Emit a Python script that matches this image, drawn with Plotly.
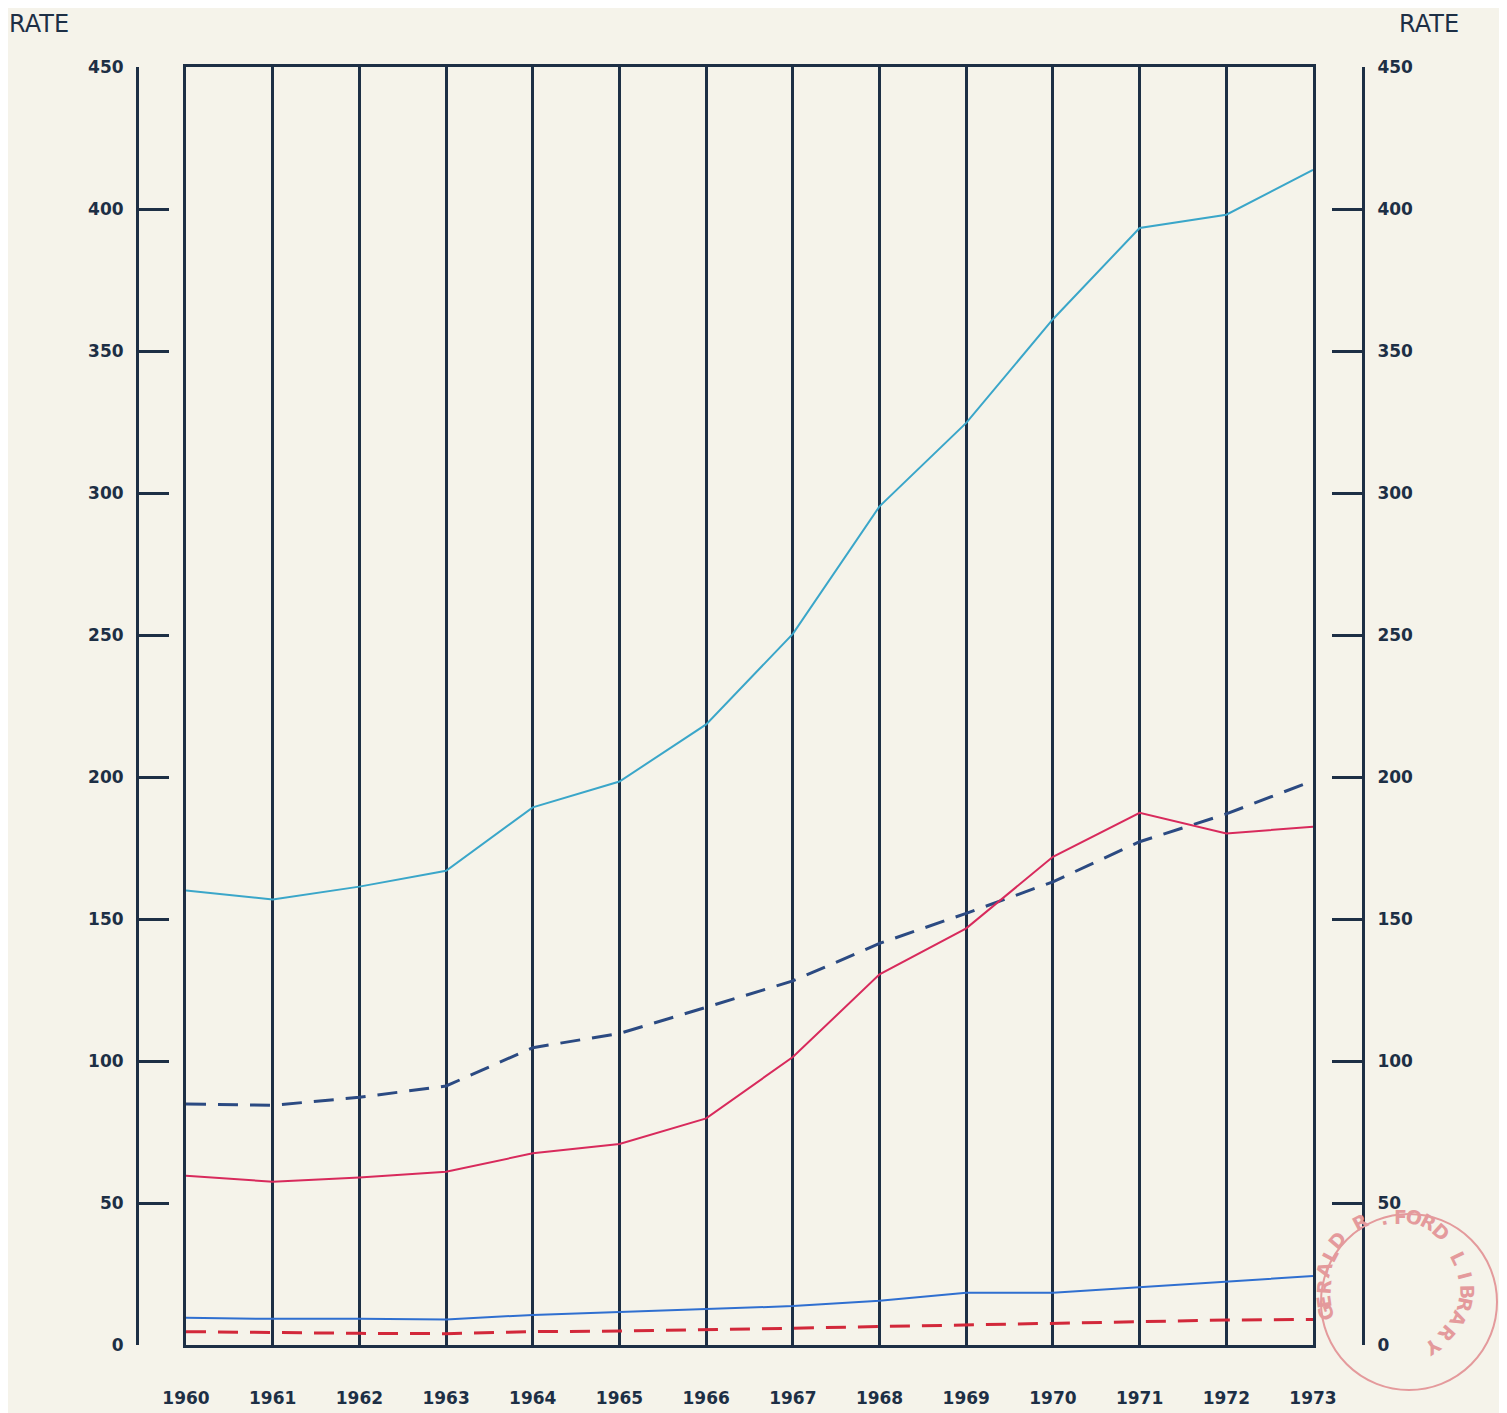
import math
import plotly.graph_objects as go

# values (rate per year)
years = [1960, 1961, 1962, 1963, 1964, 1965, 1966, 1967, 1968, 1969, 1970, 1971, 1972, 1973]
cyan_rate = [160.0, 156.9, 161.4, 167.0, 189.3, 198.4, 218.5, 250.4, 295.3, 324.7, 361.2, 393.3, 398.0, 413.8]
navy_dash_rate = [84.9, 84.4, 87.2, 91.2, 104.7, 109.7, 118.9, 128.2, 141.4, 152.0, 163.1, 177.2, 187.0, 198.7]
red_rate = [59.6, 57.5, 59.0, 61.0, 67.5, 70.8, 79.8, 101.4, 130.5, 146.7, 171.9, 187.4, 180.1, 182.5]
blue_rate = [9.6, 9.2, 9.2, 9.0, 10.6, 11.7, 12.7, 13.7, 15.6, 18.4, 18.4, 20.3, 22.3, 24.3]
red_dash_rate = [4.7, 4.3, 4.1, 4.0, 4.7, 4.9, 5.3, 5.9, 6.5, 7.0, 7.6, 8.2, 8.8, 9.0]
y_ticks = [0, 50, 100, 150, 200, 250, 300, 350, 400, 450]

# the page puts the figure 8px in from the top-left corner
OFF = 8
W, H = 1507 - OFF, 1413 - OFF
BG = "#f5f3ea"
INK = "#1d2f45"
FONT = "DejaVu Sans"

fig = go.Figure()

fig.add_trace(go.Scatter(x=years, y=cyan_rate, mode="lines", name="cyan",
                         line=dict(color="#3aa6c9", width=2)))
fig.add_trace(go.Scatter(x=years, y=navy_dash_rate, mode="lines", name="navy dashed",
                         line=dict(color="#2b4a82", width=3, dash="20px,12px")))
fig.add_trace(go.Scatter(x=years, y=red_rate, mode="lines", name="red",
                         line=dict(color="#d82a5c", width=2)))
# y3 is the box frame axis (same scale)
fig.add_trace(go.Scatter(x=years, y=blue_rate, mode="lines", name="blue",
                         line=dict(color="#2f6fd0", width=2), yaxis="y3"))
# on the right axis (same scale) so it gets drawn
fig.add_trace(go.Scatter(x=years, y=red_dash_rate, mode="lines", name="red dashed",
                         line=dict(color="#d2283a", width=3, dash="20px,12px"), yaxis="y2"))

# page pixel -> paper helpers
def px(x):
    return (x - OFF) / W

def py(y):
    return 1 - (y - OFF) / H

yaxis_common = dict(
    range=[0, 450], tickvals=y_ticks, domain=[py(1345), py(67)],
    showgrid=False, zeroline=False, showline=True, linecolor=INK, linewidth=3,
    ticks="inside", ticklen=30, tickwidth=3, tickcolor=INK,
    tickfont=dict(family=FONT, size=17, color=INK, weight="bold"),
    ticklabelstandoff=9, anchor="free",
)

fig.update_layout(
    width=W, height=H,
    paper_bgcolor=BG, plot_bgcolor=BG,
    margin=dict(l=0, r=0, t=0, b=0, autoexpand=False),
    showlegend=False,
    xaxis=dict(
        domain=[px(186), px(1313)], range=[1960, 1973],
        tickvals=years, showgrid=True, gridcolor=INK, gridwidth=3,
        zeroline=False, showline=True, mirror=True, linecolor=INK, linewidth=3,
        ticks="outside", ticklen=36, tickcolor="rgba(0,0,0,0)",
        tickfont=dict(family=FONT, size=17, color=INK, weight="bold"),
        anchor="y",
    ),
    yaxis=dict(side="left", position=px(137), **yaxis_common),
    yaxis2=dict(side="right", position=px(1363), overlaying="y", **yaxis_common),
    yaxis3=dict(range=[0, 450], domain=[py(1345), py(67)], overlaying="y", anchor="x",
                showgrid=False, zeroline=False, showticklabels=False, ticks="",
                showline=True, mirror=True, linecolor=INK, linewidth=3),
)

fig.add_annotation(x=px(7), y=py(8), xref="paper", yref="paper", text="RATE",
                   showarrow=False, xanchor="left", yanchor="top",
                   font=dict(family=FONT, size=24, color=INK))
fig.add_annotation(x=px(1461), y=py(8), xref="paper", yref="paper", text="RATE",
                   showarrow=False, xanchor="right", yanchor="top",
                   font=dict(family=FONT, size=24, color=INK))

# library stamp in the lower right corner
cx, cy, r = 1409, 1302, 88
stamp = "#e49a9c"
fig.add_shape(type="circle", xref="paper", yref="paper",
              x0=px(cx - r), x1=px(cx + r), y0=py(cy + r), y1=py(cy - r),
              line=dict(color=stamp, width=2))
stamp_letters = ["G", "E", "R", "A", "L", "D", "R", ".", "F", "O", "R", "D",
                 "L", "I", "B", "R", "A", "R", "Y"]
stamp_angles = [200, 188, 176, 164, 152, 140, 118, 104, 90, 76, 62, 48,
                26, 14, 1, -12, -26, -41, -57]
for ch, a in zip(stamp_letters, stamp_angles):
    tx = cx + 72 * math.cos(math.radians(a))
    ty = cy - 72 * math.sin(math.radians(a))
    fig.add_annotation(x=px(tx), y=py(ty), xref="paper", yref="paper", text=ch,
                       showarrow=False, textangle=90 - a,
                       font=dict(family=FONT, size=19, color=stamp, weight="bold"))

fig.write_html("out.html")
